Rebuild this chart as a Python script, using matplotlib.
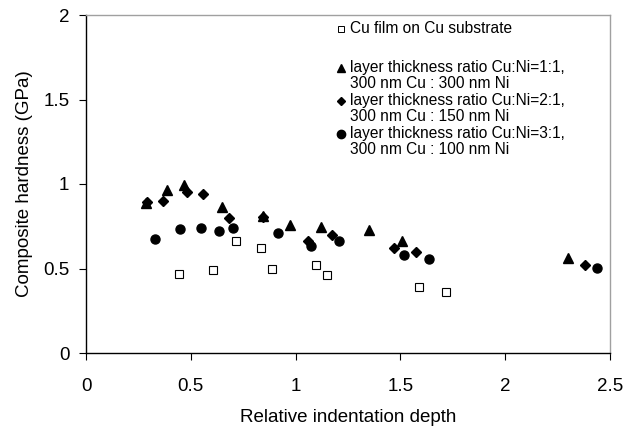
import matplotlib
matplotlib.use("Agg")
import matplotlib.pyplot as plt

plt.rcParams['font.family'] = ['Liberation Sans', 'DejaVu Sans']

# Cu film on Cu substrate
sq_x = [0.445, 0.604, 0.714, 0.835, 0.886, 1.097, 1.148, 1.589, 1.719]
sq_y = [0.466, 0.491, 0.665, 0.619, 0.499, 0.521, 0.463, 0.389, 0.361]
# Cu:Ni = 1:1
tri_x = [0.285, 0.388, 0.468, 0.650, 0.845, 0.973, 1.120, 1.350, 1.509, 2.301]
tri_y = [0.886, 0.964, 0.994, 0.866, 0.811, 0.757, 0.747, 0.728, 0.663, 0.560]
# Cu:Ni = 2:1
dia_x = [0.289, 0.369, 0.480, 0.557, 0.682, 0.843, 1.061, 1.172, 1.471, 1.573, 2.381]
dia_y = [0.895, 0.901, 0.955, 0.939, 0.799, 0.803, 0.663, 0.698, 0.619, 0.600, 0.519]
# Cu:Ni = 3:1
cir_x = [0.329, 0.448, 0.547, 0.636, 0.703, 0.918, 1.073, 1.207, 1.519, 1.636, 2.436]
cir_y = [0.673, 0.732, 0.740, 0.724, 0.740, 0.712, 0.633, 0.665, 0.580, 0.554, 0.501]

labels = ["Cu film on Cu substrate",
          "layer thickness ratio Cu:Ni=1:1,\n300 nm Cu : 300 nm Ni",
          "layer thickness ratio Cu:Ni=2:1,\n300 nm Cu : 150 nm Ni",
          "layer thickness ratio Cu:Ni=3:1,\n300 nm Cu : 100 nm Ni"]
xticks = [0, 0.5, 1, 1.5, 2, 2.5]
yticks = [0, 0.5, 1, 1.5, 2]

fig = plt.figure(figsize=(6.37, 4.28), dpi=100)
ax = fig.add_axes([86/637, 1-353/428, 524/637, 338/428])

ax.plot(sq_x, sq_y, 's', ms=6, mfc='white', mec='black', mew=0.8, ls='none')
ax.plot(tri_x, tri_y, '^', ms=7.5, color='black', ls='none')
ax.plot(dia_x, dia_y, 'D', ms=5, color='black', ls='none')
ax.plot(cir_x, cir_y, 'o', ms=6.5, color='black', ls='none')

ax.set_xlim(0, 2.5)
ax.set_ylim(0, 2)
ax.set_xticks(xticks)
ax.set_xticklabels([f"{t:g}" for t in xticks])
ax.set_yticks(yticks)
ax.set_yticklabels([f"{t:g}" for t in yticks])
ax.tick_params(direction='out', length=5, width=0.8, labelsize=13.5, pad=7)
ax.tick_params(axis='x', pad=13)
for s in ['top', 'right']:
    ax.spines[s].set_color('#a0a0a0')
    ax.spines[s].set_linewidth(1.0)
for s in ['left', 'bottom']:
    ax.spines[s].set_color('black')
    ax.spines[s].set_linewidth(1.0)

ax.set_xlabel("Relative indentation depth", fontsize=13.5, labelpad=10)
ax.set_ylabel("Composite hardness (GPa)", fontsize=13.5, labelpad=7)

# manual legend (axes coordinates)
W, H = 524.0, 338.0
def ax_coords(px, py):
    return ((px - 86) / W, (353 - py) / H)

leg_items = [
    (dict(marker='s', ms=5, mfc='white', mec='black', mew=0.7), 29, labels[0]),
    (dict(marker='^', ms=6, color='black'), 68, labels[1]),
    (dict(marker='D', ms=4, color='black'), 101, labels[2]),
    (dict(marker='o', ms=6, color='black'), 134, labels[3]),
]
for style, py, lab in leg_items:
    mx, my = ax_coords(341, py)
    ax.plot([mx], [my], transform=ax.transAxes, ls='none', clip_on=False, **style)
    tx, ty = ax_coords(350, py - 8)
    ax.text(tx, ty, lab, transform=ax.transAxes, fontsize=11.2, va='top', ha='left',
            linespacing=1.12)

fig.savefig("out.png", dpi=100)
